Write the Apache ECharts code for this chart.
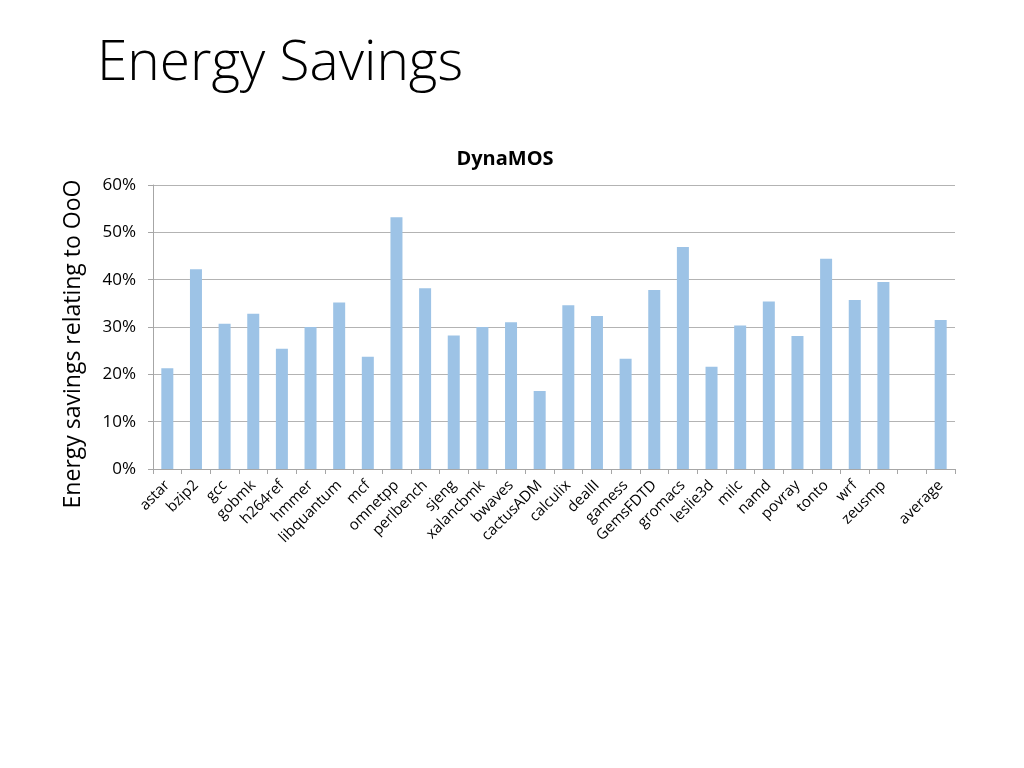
<!DOCTYPE html>
<html>
<head>
<meta charset="utf-8">
<script src="https://cdn.jsdelivr.net/npm/echarts@6/dist/echarts.min.js"></script>
<style>html,body{margin:0;padding:0;background:#fff;}#c{width:1024px;height:768px;}</style>
</head>
<body>
<div id="c"></div>
<script>
const categories = ['astar','bzip2','gcc','gobmk','h264ref','hmmer','libquantum','mcf','omnetpp','perlbench','sjeng','xalancbmk','bwaves','cactusADM','calculix','dealII','gamess','GemsFDTD','gromacs','leslie3d','milc','namd','povray','tonto','wrf','zeusmp','','average'];
const savings = [21.3,42.2,30.7,32.8,25.4,30.0,35.2,23.7,53.2,38.2,28.2,30.0,31.0,16.5,34.6,32.3,23.3,37.8,46.9,21.6,30.3,35.4,28.1,44.4,35.7,39.5,null,31.5];
const yTicks = [0,10,20,30,40,50,60];

const chart = echarts.init(document.getElementById('c'));
chart.setOption({
  animation: false,
  title: [
    {text: 'Energy Savings', left: 92, top: 32,
     textStyle: {fontFamily: 'Open Sans', fontWeight: 300, fontSize: 55, color: '#000'}},
    {text: 'DynaMOS', left: 500, top: 144, textAlign: 'center',
     textStyle: {fontFamily: 'Open Sans', fontWeight: 'bold', fontSize: 20, color: '#000'}}
  ],
  graphic: [{
    type: 'text', x: 73, y: 344, rotation: Math.PI / 2,
    style: {text: 'Energy savings relating to OoO', fontFamily: 'Open Sans', fontSize: 23,
            fill: '#000', textAlign: 'center', textVerticalAlign: 'middle'}
  }],
  grid: {left: 153, right: 69, top: 185, bottom: 299, containLabel: false},
  xAxis: {
    type: 'category', data: categories,
    axisLine: {show: true, lineStyle: {color: '#a6a6a6'}},
    axisTick: {show: true, alignWithLabel: false, length: 5, lineStyle: {color: '#a6a6a6'}},
    axisLabel: {interval: 0, rotate: 45, fontFamily: 'Open Sans', fontSize: 15, color: '#000', margin: 14}
  },
  yAxis: {
    type: 'value', min: 0, max: 60, interval: 10,
    axisLine: {show: true, lineStyle: {color: '#a6a6a6'}},
    axisTick: {show: true, length: 5, lineStyle: {color: '#a6a6a6'}},
    axisLabel: {formatter: v => yTicks.includes(v) ? v + '%' : '', fontFamily: 'Open Sans', fontSize: 17, color: '#000', margin: 17},
    splitLine: {show: true, lineStyle: {color: '#b3b3b3', width: 1}}
  },
  series: [{
    type: 'bar', data: savings, barWidth: 12,
    itemStyle: {color: '#9dc3e6'}
  }]
});
</script>
</body>
</html>
